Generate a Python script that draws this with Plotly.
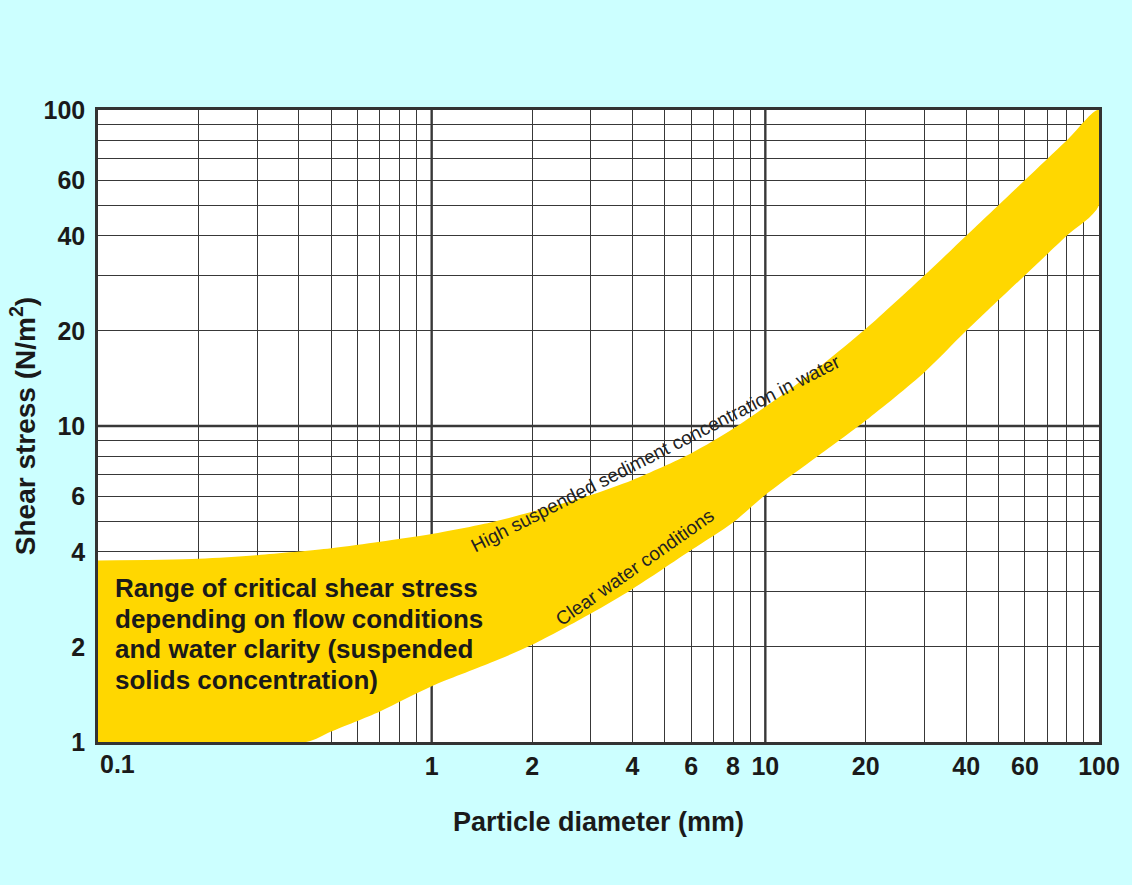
import plotly.graph_objects as go

# Band of critical shear stress
upper_x = [0.1, 0.2, 0.3, 0.5, 0.7, 1, 1.5, 2, 3, 4, 6, 8, 10, 12, 15, 20, 30, 40, 60, 80, 100]
upper_y = [3.75, 3.8, 3.9, 4.1, 4.3, 4.55, 4.95, 5.35, 6.05, 6.75, 8.2, 9.8, 11.5, 13.2, 15.8, 20.3, 30, 40, 60, 80, 100]
lower_x = [0.1, 0.42, 0.5, 0.7, 1, 1.5, 2, 3, 4, 6, 8, 10, 15, 20, 30, 40, 60, 80, 100]
lower_y = [1, 1, 1.08, 1.25, 1.5, 1.78, 2.03, 2.55, 3.05, 4.05, 4.95, 6.05, 8.3, 10.4, 14.8, 20, 30, 40, 50]

x_ticks = [1, 2, 4, 6, 8, 10, 20, 40, 60, 100]
x_labels = ["1", "2", "4", "6", "8", "10", "20", "40", "60", "100"]
x_first_label = "0.1"  # sits just right of the corner in the original
y_ticks = [1, 2, 4, 6, 10, 20, 40, 60, 100]
y_labels = ["1", "2", "4", "6", "10", "20", "40", "60", "100"]
grid_vals = [k * 10 ** d for d in (-1, 0, 1) for k in range(1, 10)] + [100]
decades = [1, 10]

note_lines = [
    "Range of critical shear stress",
    "depending on flow conditions",
    "and water clarity (suspended",
    "solids concentration)",
]

BG = "#CCFFFF"
GRID = "#383838"
YELLOW = "#FFD700"
FONT = "Liberation Sans, Arial, sans-serif"
INK = "#1a1a1a"

fig = go.Figure()
fig.add_trace(go.Scatter(
    x=upper_x + lower_x[::-1],
    y=upper_y + lower_y[::-1],
    mode="lines",
    fill="toself",
    fillcolor=YELLOW,
    line=dict(width=0, color=YELLOW, shape="spline", smoothing=0.8),
    hoverinfo="skip",
    showlegend=False,
))

# heavier lines at the decades
for v in decades:
    fig.add_shape(type="line", xref="x", yref="paper", x0=v, x1=v, y0=0, y1=1,
                  line=dict(color=GRID, width=2.4), layer="below")
fig.add_shape(type="line", xref="paper", yref="y", x0=0, x1=1, y0=10, y1=10,
              line=dict(color=GRID, width=2.4), layer="below")

axis_common = dict(
    type="log",
    showgrid=True,
    gridcolor=GRID,
    gridwidth=1.3,
    showline=True,
    linecolor="#333333",
    linewidth=2.5,
    mirror=True,
    ticks="",
    zeroline=False,
    tickfont=dict(family=FONT, size=25, color=INK, weight="bold"),
    minor=dict(tickvals=grid_vals, showgrid=True, gridcolor=GRID, gridwidth=1.3),
)

fig.update_layout(
    width=1132,
    height=885,
    paper_bgcolor=BG,
    plot_bgcolor="white",
    margin=dict(l=98, r=28, t=110, b=143),
    showlegend=False,
    xaxis=dict(
        **axis_common,
        range=[-1, 2],
        tickmode="array",
        tickvals=x_ticks,
        ticktext=x_labels,
        ticklabelstandoff=0,
        title=dict(text="Particle diameter (mm)", standoff=34,
                   font=dict(family=FONT, size=27, color=INK, weight="bold")),
    ),
    yaxis=dict(
        **axis_common,
        range=[0, 2],
        tickmode="array",
        tickvals=y_ticks,
        ticktext=y_labels,
        ticklabelstandoff=5,
        title=dict(text="Shear stress (N/m<sup>2</sup>)", standoff=0,
                   font=dict(family=FONT, size=28, color=INK, weight="bold")),
    ),
)

# "0.1" label, nudged right of the axis corner as in the original
fig.add_annotation(
    xref="x", yref="paper", x=-1, y=0,
    xanchor="left", yanchor="top", yshift=-6, showarrow=False,
    text=x_first_label,
    font=dict(family=FONT, size=25, color=INK, weight="bold"),
)

# explanatory note, one annotation per line for tighter spacing
for i, line in enumerate(note_lines):
    fig.add_annotation(
        xref="paper", yref="paper", x=0.0149, y=0.2437 - i * 0.0485,
        xanchor="left", yanchor="middle", align="left", showarrow=False,
        text=line,
        font=dict(family=FONT, size=26, color=INK, weight="bold"),
    )

fig.add_annotation(
    xref="paper", yref="paper", x=0.557, y=0.456,
    xanchor="center", yanchor="middle",
    showarrow=False, textangle=-27,
    text="High suspended sediment concentration in water",
    font=dict(family=FONT, size=19, color="#222222"),
)
fig.add_annotation(
    xref="paper", yref="paper", x=0.536, y=0.276,
    xanchor="center", yanchor="middle",
    showarrow=False, textangle=-35,
    text="Clear water conditions",
    font=dict(family=FONT, size=19, color="#222222"),
)

fig.write_html(
    "out.html",
    config={"displayModeBar": False},
    post_script="document.body.style.margin='0';document.body.style.background='#CCFFFF';",
)
